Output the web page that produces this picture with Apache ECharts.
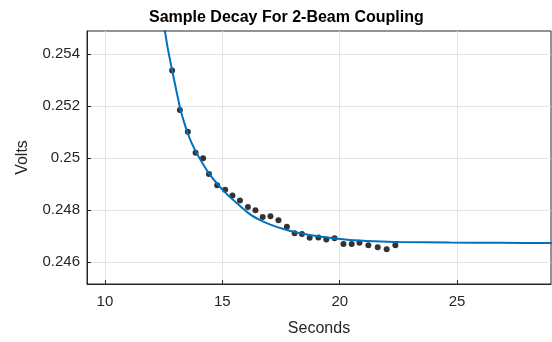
<!DOCTYPE html>
<html>
<head>
<meta charset="utf-8">
<script src="https://cdn.jsdelivr.net/npm/echarts@6/dist/echarts.min.js"></script>
<style>
html,body{margin:0;padding:0;background:#fff;}
#chart{width:552px;height:342px;}
</style>
</head>
<body>
<div id="chart"></div>
<script>
// Measured samples (seconds, volts)
const sampleSeconds = [12.86, 13.19, 13.53, 13.86, 14.18, 14.43, 14.78, 15.12, 15.43, 15.75, 16.09, 16.41, 16.72, 17.05, 17.39, 17.75, 18.08, 18.39, 18.72, 19.09, 19.43, 19.78, 20.16, 20.51, 20.84, 21.22, 21.62, 22.00, 22.37];
const sampleVolts = [0.25338, 0.25186, 0.25102, 0.25021, 0.25000, 0.24940, 0.24896, 0.24879, 0.24857, 0.24838, 0.24813, 0.24800, 0.24774, 0.24777, 0.24762, 0.24737, 0.24712, 0.24709, 0.24694, 0.24695, 0.24688, 0.24692, 0.24670, 0.24670, 0.24675, 0.24665, 0.24658, 0.24650, 0.24665];
// Fitted curve
const fitSeconds = [12.42, 12.51, 12.68, 12.86, 13.04, 13.21, 13.36, 13.51, 13.70, 13.93, 14.17, 14.46, 14.82, 15.17, 15.66, 16.17, 16.59, 17.02, 17.57, 18.15, 18.72, 19.57, 20.42, 21.48, 22.54, 24.67, 26.79, 28.96, 29.35];
const fitVolts = [0.25557, 0.25512, 0.25421, 0.25339, 0.25261, 0.25190, 0.25142, 0.25100, 0.25057, 0.25016, 0.24979, 0.24938, 0.24898, 0.24864, 0.24824, 0.24785, 0.24763, 0.24746, 0.24729, 0.24715, 0.24705, 0.24694, 0.24686, 0.24681, 0.24678, 0.24676, 0.24675, 0.24674, 0.24674];
// Axis ticks
const xTicks = [10, 15, 20, 25];
const yTicks = [0.246, 0.248, 0.250, 0.252, 0.254];
const titleText = 'Sample Decay For 2-Beam Coupling';
const xName = 'Seconds';
const yName = 'Volts';

const samples = sampleSeconds.map((x, i) => [x, sampleVolts[i]]);
const fit = fitSeconds.map((x, i) => [x, fitVolts[i]]);

const frame = '#262626';
const font = 'Liberation Sans, Arial, sans-serif';
const chart = echarts.init(document.getElementById('chart'), null, {renderer: 'canvas'});
chart.setOption({
  animation: false,
  backgroundColor: '#ffffff',
  textStyle: {fontFamily: font},
  title: {
    text: titleText,
    left: 144, top: 5,
    textStyle: {fontSize: 16, fontWeight: 'bold', color: '#000', fontFamily: font}
  },
  grid: {left: 87, right: 1, top: 31, bottom: 50, show: true, borderColor: frame, borderWidth: 1, backgroundColor: '#fff'},
  xAxis: {
    type: 'value', min: 9.235, max: 29,
    name: xName, nameLocation: 'middle', nameGap: 37,
    nameTextStyle: {fontSize: 16, color: '#262626', fontFamily: font},
    axisLine: {show: true, lineStyle: {color: frame}},
    axisTick: {show: true, inside: true, length: 4, customValues: xTicks, lineStyle: {color: frame}},
    axisLabel: {customValues: xTicks, fontSize: 15, color: '#262626', margin: 10, fontFamily: font},
    splitLine: {show: true, lineStyle: {color: '#e3e3e3'}}
  },
  yAxis: {
    type: 'value', min: 0.245164, max: 0.254896,
    name: yName, nameLocation: 'middle', nameGap: 56, nameRotate: 90,
    nameTextStyle: {fontSize: 16, color: '#262626', fontFamily: font},
    axisLine: {show: true, lineStyle: {color: frame}},
    axisTick: {show: true, inside: true, length: 4, customValues: yTicks, lineStyle: {color: frame}},
    axisLabel: {customValues: yTicks, fontSize: 15, color: '#262626', margin: 7, fontFamily: font,
      formatter: v => String(parseFloat(v.toFixed(4)))},
    splitLine: {show: true, lineStyle: {color: '#e3e3e3'}}
  },
  series: [
    {
      type: 'scatter', data: samples, symbol: 'circle', symbolSize: 6,
      itemStyle: {color: '#000'}, z: 3
    },
    {
      type: 'line', data: fit, smooth: 0.25, showSymbol: false, clip: true,
      lineStyle: {color: '#0072BD', width: 2}, z: 4
    }
  ]
});
</script>
</body>
</html>
